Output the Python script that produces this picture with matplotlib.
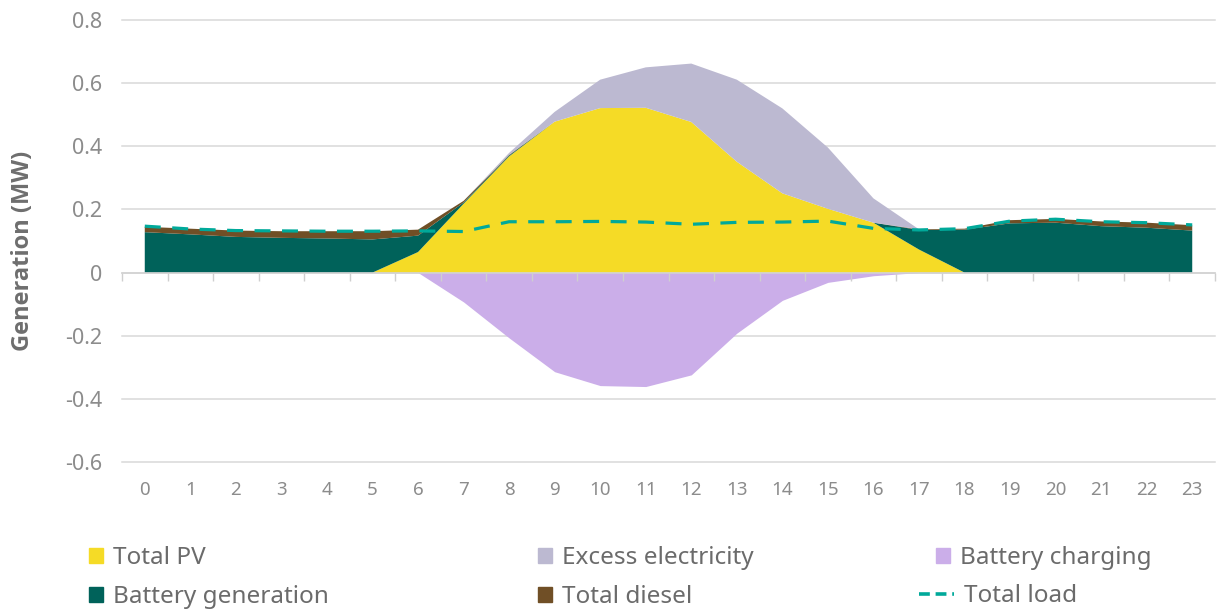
import numpy as np
import matplotlib
matplotlib.use("Agg")
import matplotlib.pyplot as plt
from matplotlib.patches import Patch
from matplotlib.lines import Line2D

plt.rcParams['font.family'] = ['Noto Sans', 'DejaVu Sans']

hours = list(range(24))

# MW
total_pv = [0, 0, 0, 0, 0, 0, 0.065, 0.218, 0.368, 0.478, 0.521, 0.522,
            0.477, 0.351, 0.251, 0.202, 0.158, 0.073, 0, 0, 0, 0, 0, 0]
battery_gen = [0.128, 0.121, 0.113, 0.110, 0.108, 0.105, 0.052, 0.004, 0.003, 0, 0, 0,
               0, 0, 0, 0, 0, 0.062, 0.136, 0.156, 0.158, 0.147, 0.142, 0.133]
total_diesel = [0.017, 0.018, 0.020, 0.021, 0.023, 0.026, 0.019, 0.005, 0.002, 0, 0, 0,
                0, 0, 0, 0, 0, 0.002, 0.003, 0.010, 0.012, 0.015, 0.016, 0.017]
excess = [0, 0, 0, 0, 0, 0, 0, 0, 0.006, 0.031, 0.090, 0.128,
          0.185, 0.260, 0.269, 0.194, 0.077, 0, 0, 0, 0, 0, 0, 0]
battery_charging = [0, 0, 0, 0, 0, 0, 0, -0.093, -0.207, -0.314, -0.358, -0.361,
                    -0.324, -0.192, -0.088, -0.031, -0.010, 0, 0, 0, 0, 0, 0, 0]
total_load = [0.147, 0.138, 0.133, 0.132, 0.131, 0.131, 0.132, 0.130, 0.161, 0.161, 0.162, 0.160,
              0.153, 0.159, 0.160, 0.163, 0.140, 0.135, 0.139, 0.163, 0.169, 0.161, 0.158, 0.151]

yticks = [0.8, 0.6, 0.4, 0.2, 0, -0.2, -0.4, -0.6]

C_PV = '#F5DB26'
C_EXCESS = '#BCB9D1'
C_CHARGE = '#CBAEE9'
C_BATT = '#00625A'
C_DIESEL = '#704F26'
C_LOAD = '#00A99A'
C_TEXT = '#8C8C8C'
C_GRID = '#D9D9D9'

W, H = 1217, 614
fig = plt.figure(figsize=(W / 100, H / 100), dpi=100)
ax = fig.add_axes([122 / W, 1 - 462 / H, (1215 - 122) / W, (462 - 20) / H])

ax.stackplot(hours, total_pv, battery_gen, total_diesel, excess,
             colors=[C_PV, C_BATT, C_DIESEL, C_EXCESS], linewidth=0, zorder=2)
ax.fill_between(hours, 0, battery_charging, color=C_CHARGE, linewidth=0, zorder=2)
ax.plot(hours, total_load, color=C_LOAD, lw=2.3, dashes=(5, 3.6), zorder=4)

ax.set_xlim(-0.5, 23.5)
ax.set_ylim(-0.6, 0.8)
ax.set_yticks(yticks)
ax.set_yticklabels([f"{v:g}" for v in yticks])
ax.set_xticks(hours)
ax.set_xticklabels([str(h) for h in hours])
ax.tick_params(axis='x', length=0, pad=14, labelsize=13.5, labelcolor=C_TEXT)
ax.tick_params(axis='y', length=0, pad=14, labelsize=15.5, labelcolor=C_TEXT)
ax.yaxis.grid(True, color=C_GRID, lw=1.1, zorder=0)
ax.set_axisbelow(True)
for s in ax.spines.values():
    s.set_visible(False)
for gl in ax.get_ygridlines():
    gl.set_clip_on(False)

ax.set_ylabel("Generation (MW)", fontsize=17, fontweight='bold', color='#6E6E6E',
              family=['Open Sans', 'DejaVu Sans'])
ax.yaxis.set_label_coords(-0.080, 0.477)

# category axis at zero with tick marks between categories
sec = ax.secondary_xaxis(0, transform=ax.transData)
sec.set_xticks(np.arange(-0.5, 24, 1))
sec.set_xticklabels([])
sec.tick_params(axis='x', length=6, width=1, color='#CFCFCF', direction='out')
sec.spines['bottom'].set_color('#D2D2D2')
sec.spines['bottom'].set_linewidth(1.1)
sec.set_zorder(3)

# legend: one entry per slot, laid out like the original 3x2 grid
leg_kw = dict(frameon=False, fontsize=17.5, labelcolor='#6B6B6B', handleheight=0.62,
              handletextpad=0.4, borderaxespad=0, borderpad=0, loc='center left')
entries = [
    (89, 558, Patch(color=C_PV), "Total PV", 0.58),
    (89, 597, Patch(color=C_BATT), "Battery generation", 0.58),
    (538, 558, Patch(color=C_EXCESS), "Excess electricity", 0.58),
    (538, 597, Patch(color=C_DIESEL), "Total diesel", 0.58),
    (936, 558, Patch(color=C_CHARGE), "Battery charging", 0.58),
    (919, 596, Line2D([], [], color=C_LOAD, lw=2.6, dashes=(3, 1.6)), "Total load", 1.45),
]
for x0, y0, handle, label, hl in entries:
    fig.legend([handle], [label], bbox_to_anchor=(x0 / W, 1 - y0 / H),
               handlelength=hl, **leg_kw)

fig.savefig("out.png", dpi=100)
